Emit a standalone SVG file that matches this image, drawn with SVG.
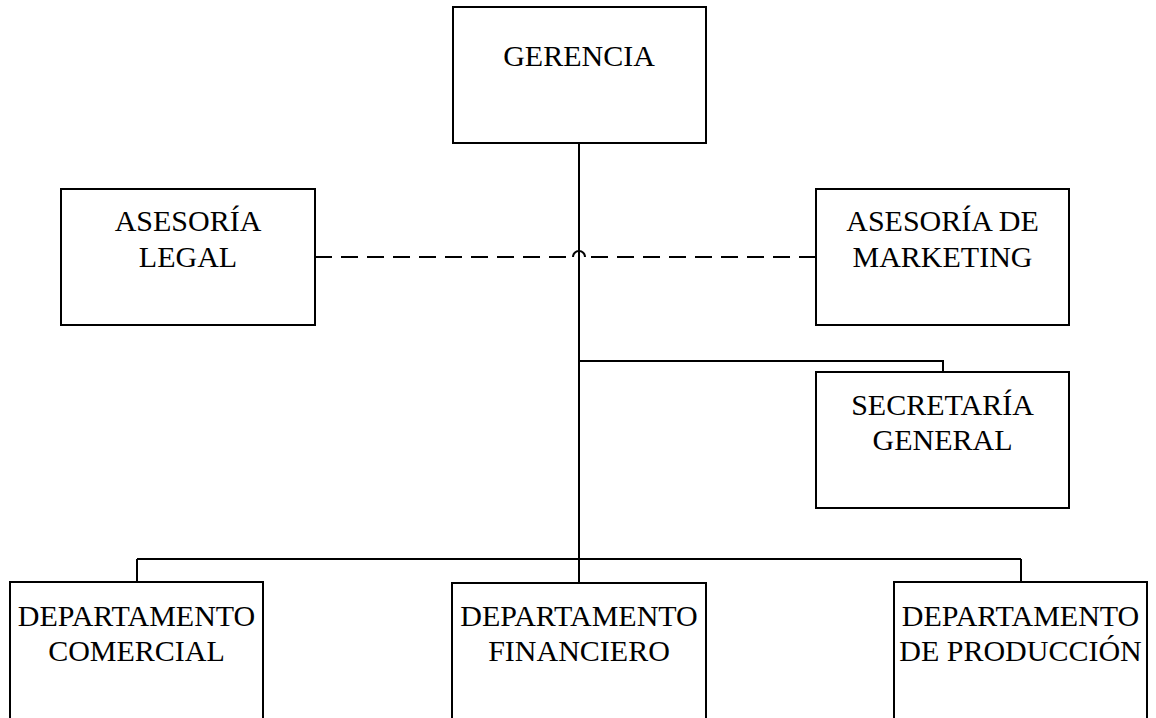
<svg xmlns="http://www.w3.org/2000/svg" width="1156" height="718" viewBox="0 0 1156 718">
<style>
.box{fill:#fff;stroke:#000;stroke-width:2}
.ln{fill:none;stroke:#000;stroke-width:2}
.dash{fill:none;stroke:#000;stroke-width:2;stroke-dasharray:17 9}
text{font-family:"Liberation Serif","Times New Roman",serif;font-size:30px;fill:#000;text-anchor:middle}
</style>
<rect width="1156" height="718" fill="#fff"/>
<g id="connectors">
<line class="ln" x1="579" y1="143" x2="579" y2="583"/>
<polyline class="ln" points="579,361 943,361 943,372"/>
<line class="ln" x1="137" y1="559" x2="1021" y2="559"/>
<line class="ln" x1="137" y1="559" x2="137" y2="582"/>
<line class="ln" x1="1021" y1="559" x2="1021" y2="582"/>
<path class="dash" d="M315,257 H573"/>
<path class="ln" d="M573,257 A6,6 0 0 1 585,257"/>
<path class="dash" d="M816,257 H585"/>
</g>
<g id="gerencia">
<rect class="box" x="453" y="7" width="253" height="136"/>
<text x="579" y="66">GERENCIA</text>
</g>
<g id="asesoria-legal">
<rect class="box" x="61" y="189" width="254" height="136"/>
<text x="188" y="231">ASESORÍA</text>
<text x="188" y="267">LEGAL</text>
</g>
<g id="asesoria-marketing">
<rect class="box" x="816" y="189" width="253" height="136"/>
<text x="942.5" y="231">ASESORÍA DE</text>
<text x="942.5" y="267">MARKETING</text>
</g>
<g id="secretaria-general">
<rect class="box" x="816" y="372" width="253" height="136"/>
<text x="942.5" y="415">SECRETARÍA</text>
<text x="942.5" y="450">GENERAL</text>
</g>
<g id="dep-comercial">
<rect class="box" x="10" y="582" width="253" height="150"/>
<text x="136.5" y="626">DEPARTAMENTO</text>
<text x="136.5" y="661">COMERCIAL</text>
</g>
<g id="dep-financiero">
<rect class="box" x="452" y="583" width="254" height="150"/>
<text x="579" y="626">DEPARTAMENTO</text>
<text x="579" y="661">FINANCIERO</text>
</g>
<g id="dep-produccion">
<rect class="box" x="894" y="582" width="253" height="150"/>
<text x="1020.5" y="626">DEPARTAMENTO</text>
<text x="1020.5" y="661">DE PRODUCCIÓN</text>
</g>
</svg>
